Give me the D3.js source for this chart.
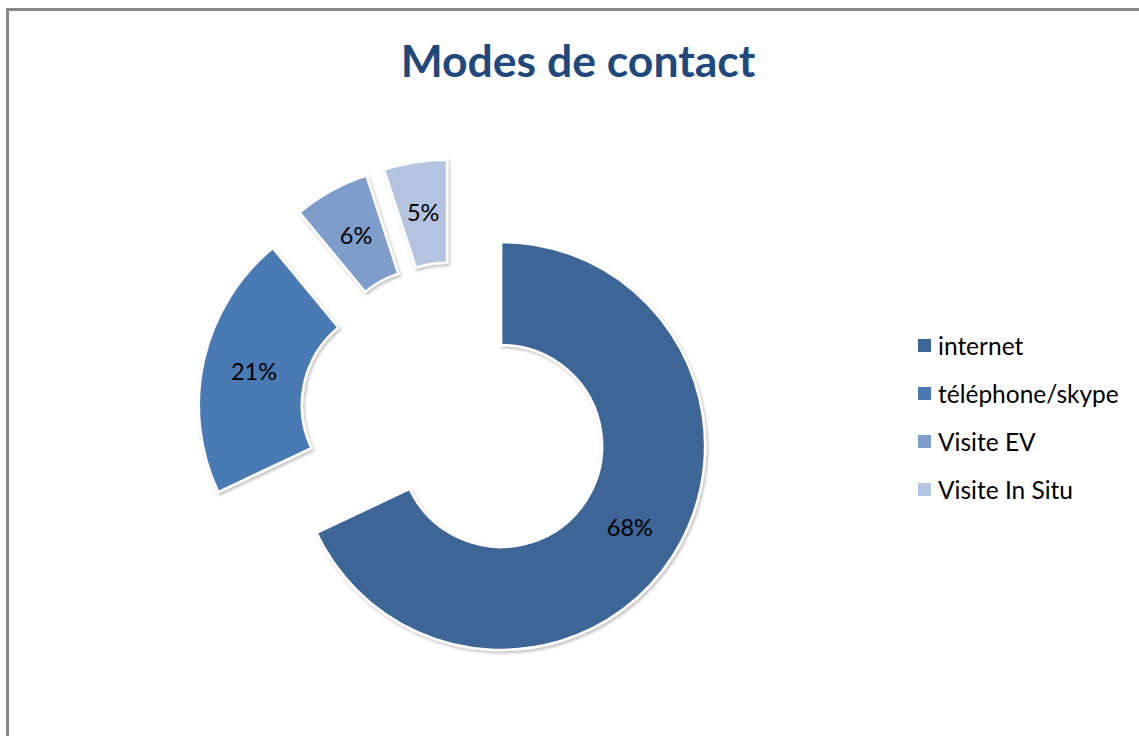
<!DOCTYPE html>
<html>
<head>
<meta charset="utf-8">
<script src="https://cdn.jsdelivr.net/npm/d3@7"></script>
<style>
  body { margin: 0; background: #fff; }
  svg { display: block; }
</style>
</head>
<body>
<svg id="chart" width="1139" height="736"></svg>
<script>
var categories = ["internet", "téléphone/skype", "Visite EV", "Visite In Situ"];
var values = [68, 21, 6, 5];
var colors = ["#3D6696", "#4A7AB4", "#7E9DCB", "#B3C3E0"];
var title = "Modes de contact";

function drawContactModes() {
  var svg = d3.select("#chart");

  // drop shadow like the office chart
  var defs = svg.append("defs");
  var f = defs.append("filter").attr("id", "shadow")
    .attr("x", "-10%").attr("y", "-10%").attr("width", "130%").attr("height", "130%");
  f.append("feDropShadow").attr("dx", 1.5).attr("dy", 2)
    .attr("stdDeviation", 1.5).attr("flood-color", "#000").attr("flood-opacity", 0.25);

  // chart frame
  svg.append("rect")
    .attr("x", 7.5).attr("y", 9.5)
    .attr("width", 1200).attr("height", 800)
    .attr("fill", "none").attr("stroke", "#888").attr("stroke-width", 3);

  svg.append("text")
    .attr("x", 578).attr("y", 77)
    .attr("text-anchor", "middle")
    .attr("font-family", "Lato, 'Open Sans', sans-serif")
    .attr("font-weight", "bold")
    .attr("font-size", 44.5)
    .attr("fill", "#1F497D")
    .text(title);

  var cx = 455.5, cy = 417, outerR = 204, innerR = 101, explode = 54;

  var data = categories.map(function (c, i) {
    return { name: c, value: values[i], color: colors[i] };
  });

  var pie = d3.pie().sort(null).value(function (d) { return d.value; });
  var arc = d3.arc().innerRadius(innerR).outerRadius(outerR);

  var g = svg.append("g").attr("transform", "translate(" + cx + "," + cy + ")");

  var slices = g.selectAll("g.slice")
    .data(pie(data))
    .enter()
    .append("g")
    .attr("class", "slice")
    .attr("transform", function (d) {
      var a = (d.startAngle + d.endAngle) / 2;
      return "translate(" + (Math.sin(a) * explode) + "," + (-Math.cos(a) * explode) + ")";
    });

  slices.append("path")
    .attr("d", arc)
    .attr("fill", function (d) { return d.data.color; })
    .attr("stroke", "#fff")
    .attr("stroke-width", 2.5)
    .attr("filter", "url(#shadow)");

  slices.append("text")
    .attr("transform", function (d) {
      return "translate(" + arc.centroid(d) + ")";
    })
    .attr("text-anchor", "middle")
    .attr("dy", "0.35em")
    .attr("font-family", "Lato, 'Open Sans', sans-serif")
    .attr("font-size", 23.5)
    .attr("fill", "#000")
    .text(function (d) {
      var total = d3.sum(values);
      return Math.round(d.data.value / total * 100) + "%";
    });

  var legend = svg.append("g")
    .selectAll("g")
    .data(data)
    .enter()
    .append("g")
    .attr("transform", function (d, i) {
      return "translate(918," + (346 + i * 48) + ")";
    });

  legend.append("rect")
    .attr("x", 0).attr("y", -7)
    .attr("width", 13).attr("height", 13)
    .attr("fill", function (d) { return d.color; });

  legend.append("text")
    .attr("x", 20)
    .attr("y", 0)
    .attr("dy", "0.35em")
    .attr("font-family", "Lato, 'Open Sans', sans-serif")
    .attr("font-size", 24.5)
    .attr("fill", "#000")
    .text(function (d) { return d.name; });
}

drawContactModes();
</script>
</body>
</html>
